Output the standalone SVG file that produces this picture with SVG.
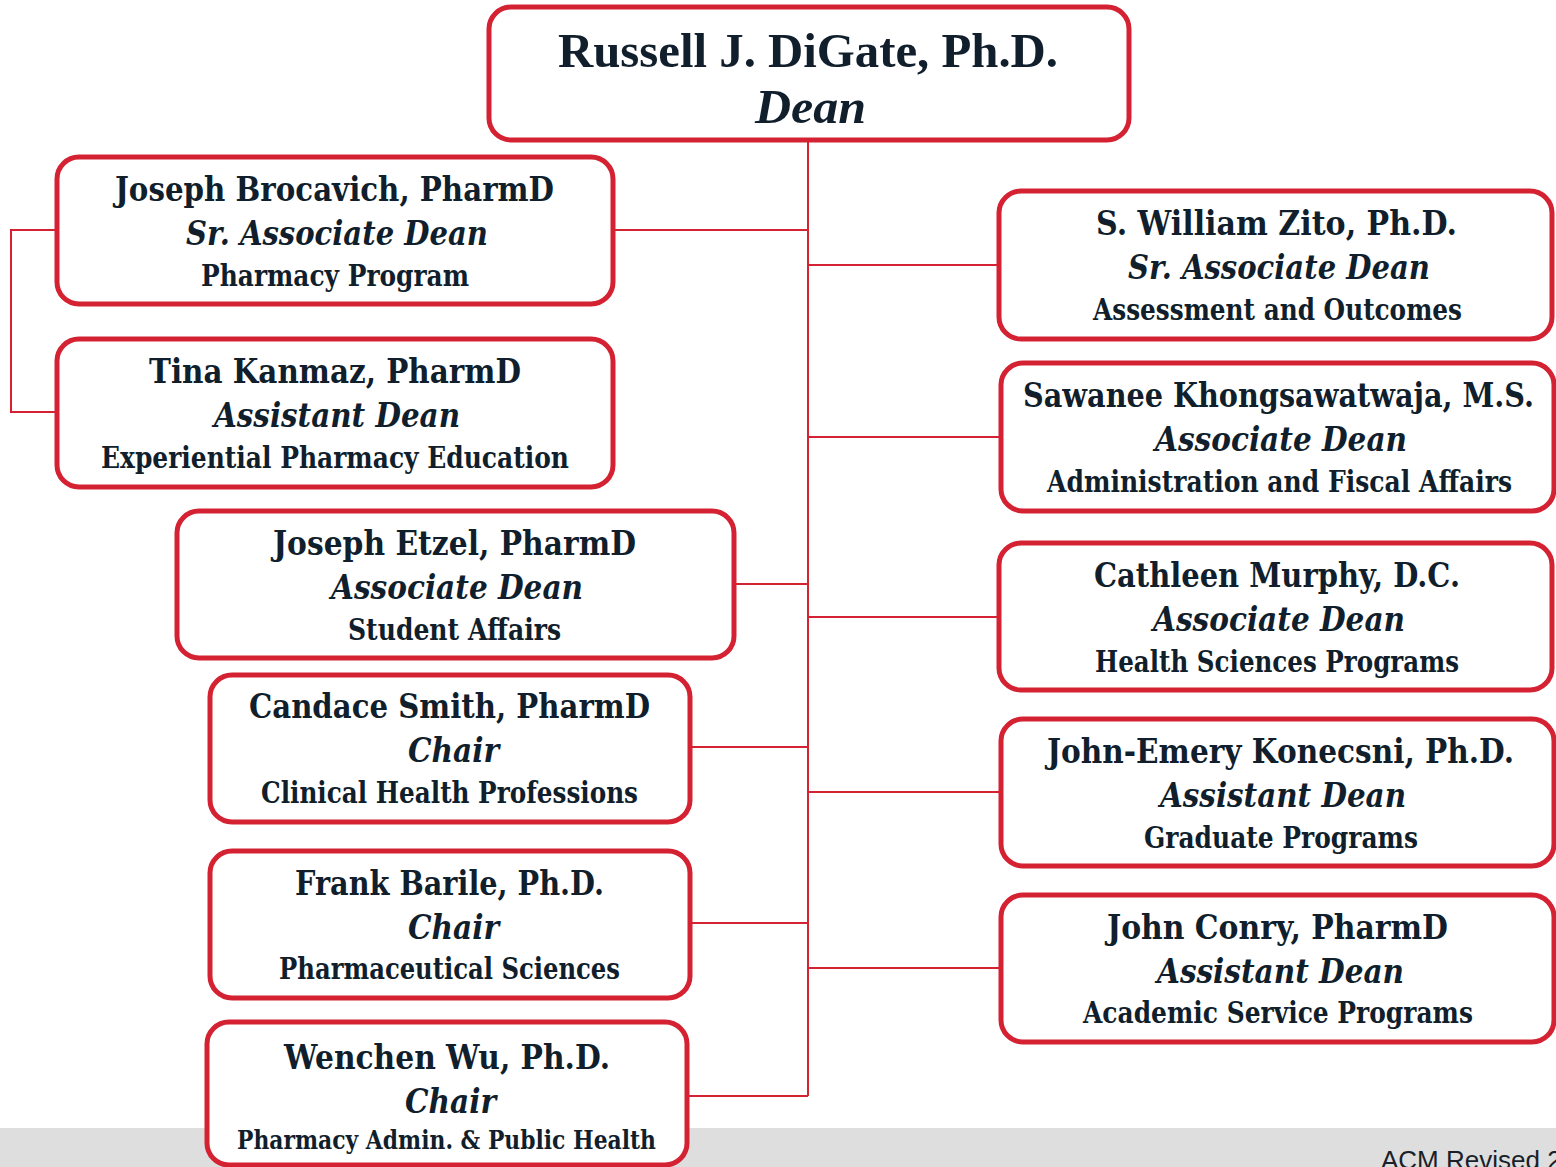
<svg xmlns="http://www.w3.org/2000/svg" width="1556" height="1167" viewBox="0 0 1556 1167">
<style>
.box{fill:#fff;stroke:#D42233;stroke-width:5}
.con{fill:none;stroke:#D42233;stroke-width:2}
text{fill:#111E2C;text-anchor:middle}
.nm{font-family:"DejaVu Serif","Liberation Serif",serif;font-weight:bold;font-size:33px}
.rl{font-family:"DejaVu Serif","Liberation Serif",serif;font-weight:bold;font-style:italic;font-size:33px}
.dp{font-family:"DejaVu Serif","Liberation Serif",serif;font-weight:bold;font-size:29px}
.dn{font-family:"Liberation Serif","Times New Roman",serif;font-weight:bold;font-size:48px}
.dni{font-family:"Liberation Serif","Times New Roman",serif;font-weight:bold;font-style:italic;font-size:48px}
.ft{font-family:"Liberation Sans",Arial,sans-serif;font-size:26px;fill:#1A1F2A;text-anchor:start}
</style>
<rect x="0" y="0" width="1556" height="1167" fill="#fff"/>
<rect x="0" y="1128" width="1556" height="39" fill="#DEDEDE"/>
<text class="ft" x="1381" y="1169">ACM Revised 2</text>
<g id="connectors">
<path class="con" d="M808 140V1096"/>
<path class="con" d="M613 230H808M734 584H808M690 747H808M690 923H808M687 1096H808"/>
<path class="con" d="M808 265H999M808 437H1001M808 617H999M808 792H1001M808 968H1001"/>
<path class="con" d="M57 230H11V412H57"/>
</g>
<g id="dean">
<rect class="box" x="489" y="7" width="640" height="133" rx="22"/>
<text class="dn" x="808" y="67" textLength="500" lengthAdjust="spacingAndGlyphs">Russell J. DiGate, Ph.D.</text>
<text class="dni" x="810.5" y="123" textLength="111" lengthAdjust="spacingAndGlyphs">Dean</text>
</g>
<g id="brocavich">
<rect class="box" x="57" y="157" width="556" height="147" rx="22"/>
<text class="nm" x="334.5" y="201" textLength="439" lengthAdjust="spacingAndGlyphs">Joseph Brocavich, PharmD</text>
<text class="rl" x="337" y="245" textLength="302" lengthAdjust="spacingAndGlyphs">Sr. Associate Dean</text>
<text class="dp" x="335" y="286" textLength="268" lengthAdjust="spacingAndGlyphs">Pharmacy Program</text>
</g>
<g id="kanmaz">
<rect class="box" x="57" y="339" width="556" height="148" rx="22"/>
<text class="nm" x="335" y="383" textLength="372" lengthAdjust="spacingAndGlyphs">Tina Kanmaz, PharmD</text>
<text class="rl" x="337" y="427" textLength="246" lengthAdjust="spacingAndGlyphs">Assistant Dean</text>
<text class="dp" x="335" y="468" textLength="468" lengthAdjust="spacingAndGlyphs">Experiential Pharmacy Education</text>
</g>
<g id="etzel">
<rect class="box" x="177" y="511" width="557" height="147" rx="22"/>
<text class="nm" x="454.5" y="555" textLength="363" lengthAdjust="spacingAndGlyphs">Joseph Etzel, PharmD</text>
<text class="rl" x="457" y="599" textLength="252" lengthAdjust="spacingAndGlyphs">Associate Dean</text>
<text class="dp" x="454.5" y="640" textLength="213" lengthAdjust="spacingAndGlyphs">Student Affairs</text>
</g>
<g id="smith">
<rect class="box" x="210" y="675" width="480" height="147" rx="22"/>
<text class="nm" x="449.5" y="718" textLength="401" lengthAdjust="spacingAndGlyphs">Candace Smith, PharmD</text>
<text class="rl" x="453.5" y="762" textLength="91" lengthAdjust="spacingAndGlyphs">Chair</text>
<text class="dp" x="449.5" y="803" textLength="377" lengthAdjust="spacingAndGlyphs">Clinical Health Professions</text>
</g>
<g id="barile">
<rect class="box" x="210" y="851" width="480" height="147" rx="22"/>
<text class="nm" x="449.5" y="895" textLength="309" lengthAdjust="spacingAndGlyphs">Frank Barile, Ph.D.</text>
<text class="rl" x="453.5" y="939" textLength="91" lengthAdjust="spacingAndGlyphs">Chair</text>
<text class="dp" x="449.5" y="979" textLength="341" lengthAdjust="spacingAndGlyphs">Pharmaceutical Sciences</text>
</g>
<g id="wu">
<rect class="box" x="207" y="1022" width="480" height="143" rx="22"/>
<text class="nm" x="447" y="1069" textLength="326" lengthAdjust="spacingAndGlyphs">Wenchen Wu, Ph.D.</text>
<text class="rl" x="450.5" y="1113" textLength="91" lengthAdjust="spacingAndGlyphs">Chair</text>
<text class="dp" x="446.5" y="1149" style="font-size:26px" textLength="419" lengthAdjust="spacingAndGlyphs">Pharmacy Admin. &amp; Public Health</text>
</g>
<g id="zito">
<rect class="box" x="999" y="191" width="553" height="148" rx="22"/>
<text class="nm" x="1276.5" y="235" textLength="361" lengthAdjust="spacingAndGlyphs">S. William Zito, Ph.D.</text>
<text class="rl" x="1279" y="279" textLength="302" lengthAdjust="spacingAndGlyphs">Sr. Associate Dean</text>
<text class="dp" x="1277.5" y="320" textLength="369" lengthAdjust="spacingAndGlyphs">Assessment and Outcomes</text>
</g>
<g id="khongsawatwaja">
<rect class="box" x="1001" y="363" width="553" height="148" rx="22"/>
<text class="nm" x="1278.5" y="407" textLength="511" lengthAdjust="spacingAndGlyphs">Sawanee Khongsawatwaja, M.S.</text>
<text class="rl" x="1281" y="451" textLength="252" lengthAdjust="spacingAndGlyphs">Associate Dean</text>
<text class="dp" x="1279.5" y="492" textLength="465" lengthAdjust="spacingAndGlyphs">Administration and Fiscal Affairs</text>
</g>
<g id="murphy">
<rect class="box" x="999" y="543" width="553" height="147" rx="22"/>
<text class="nm" x="1277" y="587" textLength="366" lengthAdjust="spacingAndGlyphs">Cathleen Murphy, D.C.</text>
<text class="rl" x="1279" y="631" textLength="252" lengthAdjust="spacingAndGlyphs">Associate Dean</text>
<text class="dp" x="1277" y="672" textLength="364" lengthAdjust="spacingAndGlyphs">Health Sciences Programs</text>
</g>
<g id="konecsni">
<rect class="box" x="1001" y="719" width="553" height="147" rx="22"/>
<text class="nm" x="1280.5" y="763" textLength="467" lengthAdjust="spacingAndGlyphs">John-Emery Konecsni, Ph.D.</text>
<text class="rl" x="1283" y="807" textLength="246" lengthAdjust="spacingAndGlyphs">Assistant Dean</text>
<text class="dp" x="1281" y="848" textLength="274" lengthAdjust="spacingAndGlyphs">Graduate Programs</text>
</g>
<g id="conry">
<rect class="box" x="1001" y="895" width="553" height="147" rx="22"/>
<text class="nm" x="1277.5" y="939" textLength="341" lengthAdjust="spacingAndGlyphs">John Conry, PharmD</text>
<text class="rl" x="1280.5" y="983" textLength="247" lengthAdjust="spacingAndGlyphs">Assistant Dean</text>
<text class="dp" x="1278" y="1023" textLength="390" lengthAdjust="spacingAndGlyphs">Academic Service Programs</text>
</g>
</svg>
